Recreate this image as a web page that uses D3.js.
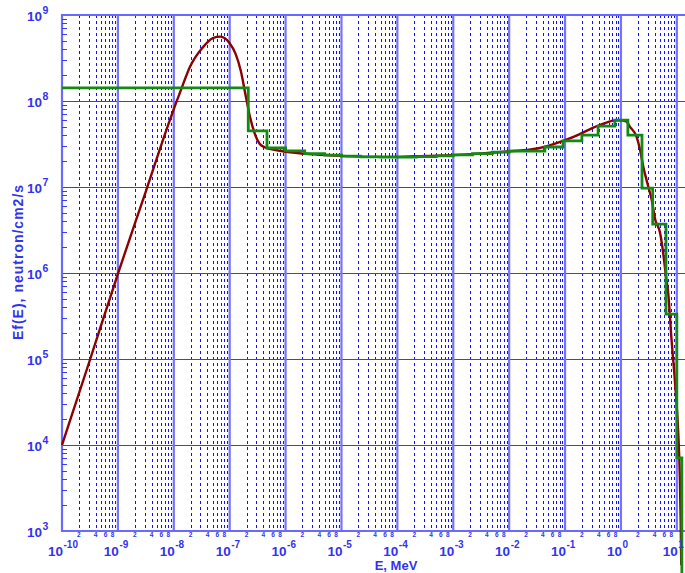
<!DOCTYPE html>
<html>
<head>
<meta charset="utf-8">
<script src="https://cdn.jsdelivr.net/npm/d3@7"></script>
<style>
  body { margin: 0; background: #fff; }
  text { font-family: Arial, "Liberation Sans", sans-serif; font-weight: bold; fill: #3333ee; }
  .grid { shape-rendering: crispEdges; }
</style>
</head>
<body>
<div id="chart"></div>
<script>
// calculated spectrum (smooth curve), E in MeV
const curveE = [1e-10, 3.2e-10, 1e-9, 3.2e-9, 8.5e-9, 1.38e-8, 1.95e-8, 3.2e-8, 5.0e-8, 6.8e-8,
  1.0e-7, 1.26e-7, 1.58e-7, 1.95e-7, 2.3e-7, 2.8e-7, 3.4e-7, 4.2e-7, 6.3e-7, 1e-6,
  3.2e-6, 1e-5, 3.2e-5, 1e-4, 3.2e-4, 1e-3, 3.2e-3, 1e-2, 3.2e-2, 0.1,
  0.18, 0.32, 0.5, 0.8, 1.0, 1.26, 1.45, 1.9, 2.2, 2.5,
  3.1, 3.55, 4.1, 5.0, 5.6, 6.4, 7.0, 8.05, 9.0, 9.6,
  10.6, 11.35, 11.7, 12.0];
const curveFlux = [1.0e4, 1.0e5, 9.8e5, 9.1e6, 6.0e7, 1.41e8, 2.5e8, 4.1e8, 5.4e8, 5.6e8,
  4.7e8, 3.6e8, 2.25e8, 1.12e8, 6.6e7, 4.2e7, 3.2e7, 2.9e7, 2.7e7, 2.57e7,
  2.4e7, 2.3e7, 2.24e7, 2.24e7, 2.3e7, 2.35e7, 2.45e7, 2.6e7, 2.8e7, 3.5e7,
  4.1e7, 4.9e7, 5.5e7, 5.95e7, 5.95e7, 5.75e7, 5.0e7, 3.85e7, 2.7e7, 1.74e7,
  1.0e7, 7.1e6, 4.2e6, 2.95e6, 1.86e6, 9.1e5, 5.9e5, 1.66e5, 6.9e4, 4.0e4,
  1.38e4, 3.9e3, 1.35e3, 4.0e2];

// group spectrum (histogram): bin edges and group values
const groupEdges = [1e-10, 2.15e-7, 4.65e-7, 1e-6, 2.2e-6, 5e-6, 1e-5, 2.2e-5, 5e-5, 1e-4,
  2.2e-4, 5e-4, 1e-3, 2.2e-3, 5e-3, 1e-2, 2.35e-2, 4.35e-2, 9.2e-2, 0.2,
  0.39, 0.78, 1.33, 2.38, 3.7, 6.4, 10, 12.3];
const groupFlux = [1.42e8, 4.5e7, 2.84e7, 2.63e7, 2.45e7, 2.35e7, 2.28e7, 2.24e7, 2.22e7, 2.22e7,
  2.25e7, 2.3e7, 2.36e7, 2.45e7, 2.55e7, 2.62e7, 2.62e7, 2.92e7, 3.43e7, 4.0e7,
  5.1e7, 6.0e7, 4.0e7, 9.7e6, 3.7e6, 3.33e5, 7.1e3];
const groupTail = 2.5e2;

const xExponents = ['-10', '-9', '-8', '-7', '-6', '-5', '-4', '-3', '-2', '-1', '0', '1'];
const yExponents = ['3', '4', '5', '6', '7', '8', '9'];
const minorLabels = ['2', '4', '6', '8'];

const chartWidth = 685;
const chartHeight = 573;
const plotLeft = 62, plotRight = 685, plotTop = 15, plotBottom = 531;

const x = d3.scaleLog().domain([1e-10, 14]).range([plotLeft, plotRight]);
const y = d3.scaleLog().domain([1e3, 1e9]).range([plotBottom, plotTop]);

const svg = d3.select('#chart')
  .append('svg')
  .attr('width', chartWidth)
  .attr('height', chartHeight);

//minor grid positions
const xMinor = [];
xExponents.forEach(e => {
  for (let m = 2; m <= 9; m++) {
    const v = m * Math.pow(10, +e);
    if (v < x.domain()[1]) xMinor.push(v);
  }
});
const yMinor = [];
yExponents.slice(0, -1).forEach(e => {
  for (let m = 2; m <= 9; m++) yMinor.push(m * Math.pow(10, +e));
});

const px = v => Math.round(x(v)) + 0.5;

svg.selectAll('.minor-x')
  .data(xMinor)
  .enter()
  .append('line')
  .attr('class', 'grid')
  .attr('x1', d => px(d)).attr('x2', d => px(d))
  .attr('y1', plotTop).attr('y2', plotBottom)
  .attr('stroke', '#1010ff')
  .attr('stroke-width', 1)
  .attr('stroke-dasharray', '3,3');

//horizontal decade lines
svg.selectAll('.major-y')
  .data(yExponents.slice(1, -1))
  .enter()
  .append('line')
  .attr('class', 'grid')
  .attr('x1', plotLeft).attr('x2', plotRight)
  .attr('y1', d => Math.round(y(Math.pow(10, +d))) + 0.5)
  .attr('y2', d => Math.round(y(Math.pow(10, +d))) + 0.5)
  .attr('stroke', '#3a3aff')
  .attr('stroke-width', 1);

//vertical decade lines
svg.selectAll('.major-x')
  .data(xExponents.slice(1))
  .enter()
  .append('line')
  .attr('x1', d => x(Math.pow(10, +d))).attr('x2', d => x(Math.pow(10, +d)))
  .attr('y1', plotTop).attr('y2', plotBottom)
  .attr('stroke', '#7373ff')
  .attr('stroke-width', 2.2);

//frame: left, bottom, top
svg.append('line').attr('x1', plotLeft).attr('x2', plotLeft).attr('y1', plotTop - 1).attr('y2', plotBottom + 1)
  .attr('stroke', '#6a6aff').attr('stroke-width', 2.2);
svg.append('line').attr('x1', plotLeft).attr('x2', plotRight).attr('y1', plotBottom).attr('y2', plotBottom)
  .attr('stroke', '#6a6aff').attr('stroke-width', 2.2);
svg.append('line').attr('x1', plotLeft).attr('x2', plotRight).attr('y1', plotTop).attr('y2', plotTop)
  .attr('stroke', '#6a6aff').attr('stroke-width', 2.2);

//left minor ticks
svg.selectAll('.tick-y')
  .data(yMinor)
  .enter()
  .append('line')
  .attr('class', 'grid')
  .attr('x1', plotLeft).attr('x2', plotLeft + 5)
  .attr('y1', d => Math.round(y(d)) + 0.5).attr('y2', d => Math.round(y(d)) + 0.5)
  .attr('stroke', '#3a3aff')
  .attr('stroke-width', 1);

//curves
const curveLine = d3.line()
  .x(d => x(d[0]))
  .y(d => y(d[1]))
  .curve(d3.curveMonotoneX);

svg.append('path')
  .attr('d', curveLine(curveE.map((e, i) => [e, curveFlux[i]])))
  .attr('fill', 'none')
  .attr('stroke', '#8b0000')
  .attr('stroke-width', 2.4);

const stepLine = d3.line()
  .x(d => x(d[0]))
  .y(d => y(d[1]))
  .curve(d3.curveStepAfter);

const groupPoints = groupFlux.map((v, i) => [groupEdges[i], v]);
groupPoints.push([groupEdges[groupEdges.length - 1], groupTail]);

svg.append('path')
  .attr('d', stepLine(groupPoints))
  .attr('fill', 'none')
  .attr('stroke', '#138a13')
  .attr('stroke-width', 2.8);

//y tick labels
const yLab = svg.selectAll('.ylab')
  .data(yExponents)
  .enter()
  .append('g');
yLab.append('text')
  .attr('x', 42)
  .attr('y', d => y(Math.pow(10, +d)) + 6)
  .attr('text-anchor', 'end')
  .attr('font-size', 13.5)
  .text('10');
yLab.append('text')
  .attr('x', 42.5)
  .attr('y', d => y(Math.pow(10, +d)) - 1)
  .attr('font-size', 10.5)
  .text(d => d);

//x tick labels
const xLab = svg.selectAll('.xlab')
  .data(xExponents)
  .enter()
  .append('g');
xLab.append('text')
  .attr('x', d => x(Math.pow(10, +d)) + 1)
  .attr('y', 556)
  .attr('text-anchor', 'end')
  .attr('font-size', 13.5)
  .text('10');
xLab.append('text')
  .attr('x', d => x(Math.pow(10, +d)) + 1.5)
  .attr('y', 548)
  .attr('font-size', 10)
  .text(d => d);

//minor x labels 2 4 6 8
const minorPos = [];
xExponents.forEach(e => {
  minorLabels.forEach(m => {
    const v = +m * Math.pow(10, +e);
    if (v < x.domain()[1]) minorPos.push({v: v, label: m});
  });
});
svg.selectAll('.minlab')
  .data(minorPos)
  .enter()
  .append('text')
  .attr('x', d => x(d.v))
  .attr('y', 537)
  .attr('text-anchor', 'middle')
  .attr('font-size', 6.5)
  .text(d => d.label);

//axis titles
svg.append('text')
  .attr('x', 396)
  .attr('y', 570)
  .attr('text-anchor', 'middle')
  .attr('font-size', 13)
  .text('E, MeV');

svg.append('text')
  .attr('transform', 'translate(23,262) rotate(-90)')
  .attr('text-anchor', 'middle')
  .attr('font-size', 14)
  .attr('letter-spacing', 1)
  .text('Ef(E), neutron/cm2/s');
</script>
</body>
</html>
